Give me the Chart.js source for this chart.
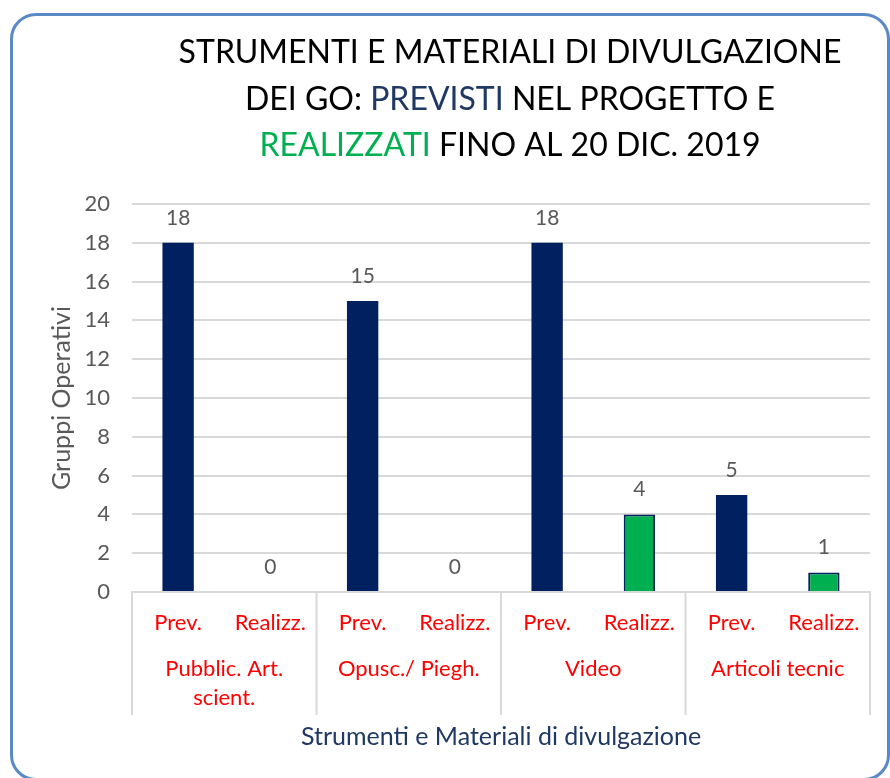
<!DOCTYPE html>
<html>
<head>
<meta charset="utf-8">
<script src="https://cdn.jsdelivr.net/npm/chart.js@4"></script>
<style>
  html, body { margin: 0; padding: 0; background: #fff; overflow: hidden; }
  #frame {
    position: absolute; left: 10px; top: 13px;
    width: 874px; height: 762px;
    border: 3px solid #5A8AC6; border-radius: 26px;
  }
  #chartBox { position: absolute; left: 0; top: 0; width: 890px; height: 778px; }
</style>
</head>
<body>
<div id="frame"></div>
<div id="chartBox"><canvas id="goChart" width="890" height="778"></canvas></div>
<script>
// Gruppi Operativi: strumenti previsti vs realizzati (al 20 dic. 2019)
const groups = [['Pubblic. Art.', 'scient.'], ['Opusc./ Piegh.'], ['Video'], ['Articoli tecnic']];
const subLabels = ['Prev.', 'Realizz.'];
const previsti = [18, 15, 18, 5];
const realizzati = [0, 0, 4, 1];
const yTicks = [0, 2, 4, 6, 8, 10, 12, 14, 16, 18, 20];

const titleLines = [
  [['STRUMENTI E MATERIALI DI DIVULGAZIONE', '#000000']],
  [['DEI GO: ', '#000000'], ['PREVISTI', '#1F3864'], [' NEL PROGETTO E', '#000000']],
  [['REALIZZATI', '#00B050'], [' FINO AL 20 DIC. 2019', '#000000']],
];

const NAVY = '#002060';
const GREEN = '#00B050';
const FONT = 'Lato, "Open Sans", sans-serif';

// interleave Prev./Realizz. per gruppo
const labels = [];
const values = [];
const colors = [];
previsti.forEach((v, i) => {
  labels.push(subLabels[0]); values.push(v); colors.push(NAVY);
  labels.push(subLabels[1]); values.push(realizzati[i]); colors.push(GREEN);
});

// mixed-colour title drawn on the canvas
const titlePlugin = {
  id: 'mixedTitle',
  afterDraw(chart) {
    const c = chart.ctx;
    c.save();
    c.font = '32px ' + FONT;
    c.textBaseline = 'middle';
    c.textAlign = 'left';
    titleLines.forEach((segs, li) => {
      const total = segs.reduce((w, s) => w + c.measureText(s[0]).width, 0);
      let x = 510 - total / 2;
      const y = 53 + li * 46.5;
      segs.forEach(([txt, col]) => {
        c.fillStyle = col;
        c.fillText(txt, x, y);
        x += c.measureText(txt).width;
      });
    });
    c.restore();
  }
};

// value labels above the bars
const valuePlugin = {
  id: 'valueLabels',
  afterDatasetsDraw(chart) {
    const c = chart.ctx;
    const meta = chart.getDatasetMeta(0);
    c.save();
    c.font = '21px ' + FONT;
    c.fillStyle = '#595959';
    c.textAlign = 'center';
    c.textBaseline = 'middle';
    meta.data.forEach((bar, i) => {
      c.fillText(String(values[i]), bar.x, bar.y - 25);
    });
    c.restore();
  }
};

// second level of the category axis: group names and dividers
const groupPlugin = {
  id: 'groupAxis',
  afterDraw(chart) {
    const c = chart.ctx;
    const xs = chart.scales.x;
    const area = chart.chartArea;
    const top = area.bottom;
    const bottom = area.bottom + 123;
    c.save();
    c.strokeStyle = '#D9D9D9';
    c.lineWidth = 2;
    const edges = [area.left];
    for (let g = 1; g < groups.length; g++) {
      edges.push((xs.getPixelForValue(2 * g - 1) + xs.getPixelForValue(2 * g)) / 2);
    }
    edges.push(area.right);
    edges.forEach(x => {
      c.beginPath(); c.moveTo(x, top); c.lineTo(x, bottom); c.stroke();
    });
    c.font = '22px ' + FONT;
    c.fillStyle = '#FF0000';
    c.textAlign = 'center';
    c.textBaseline = 'middle';
    groups.forEach((lines, g) => {
      const cx = (xs.getPixelForValue(2 * g) + xs.getPixelForValue(2 * g + 1)) / 2;
      lines.forEach((ln, k) => c.fillText(ln, cx, top + 77 + k * 29));
    });
    c.restore();
  }
};

new Chart(document.getElementById('goChart'), {
  type: 'bar',
  data: {
    labels: labels,
    datasets: [{
      data: values,
      backgroundColor: colors,
      borderColor: NAVY,
      borderWidth: colors.map(col => col === GREEN ? 2 : 0),
      categoryPercentage: 1,
      barPercentage: 0.34,
    }]
  },
  options: {
    responsive: false,
    animation: false,
    layout: { padding: { top: 204, right: 20, left: 0, bottom: 0 } },
    plugins: {
      legend: { display: false },
      tooltip: { enabled: false },
    },
    scales: {
      x: {
        grid: { display: false, drawTicks: false },
        border: { display: true, color: '#D9D9D9', width: 2 },
        ticks: {
          color: '#FF0000',
          font: { family: FONT, size: 22 },
          padding: 18,
          maxRotation: 0,
          autoSkip: false,
        },
        title: {
          display: true,
          text: 'Strumenti e Materiali di divulgazione',
          color: '#1F3864',
          font: { family: FONT, size: 25 },
          padding: { top: 0, bottom: 26 },
        },
        afterFit(scale) { scale.height = 186; }
      },
      y: {
        min: 0,
        max: 20,
        afterBuildTicks(scale) { scale.ticks = yTicks.map(v => ({ value: v })); },
        grid: { color: '#D9D9D9', lineWidth: 2, drawTicks: false },
        border: { display: false },
        ticks: {
          color: '#595959',
          font: { family: FONT, size: 22 },
          padding: 22,
        },
        title: {
          display: true,
          text: 'Gruppi Operativi',
          color: '#595959',
          font: { family: FONT, size: 25 },
          padding: { top: 47, bottom: 0 },
        },
        afterFit(scale) { scale.width = 132; }
      }
    }
  },
  plugins: [titlePlugin, valuePlugin, groupPlugin]
});
</script>
</body>
</html>
